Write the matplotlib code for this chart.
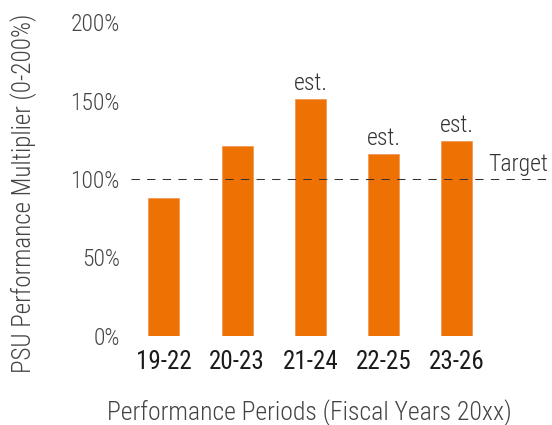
import matplotlib
matplotlib.use("Agg")
import matplotlib.pyplot as plt
from matplotlib.ticker import FuncFormatter

periods = ["19-22", "20-23", "21-24", "22-25", "23-26"]
multiplier = [88, 121, 151, 116, 124]
estimated = [False, False, True, True, True]
target = 100
yticks = [0, 50, 100, 150, 200]

FONT = "Roboto Condensed"
ORANGE = "#EE7203"

fig = plt.figure(figsize=(5.52, 4.25), dpi=100)
ax = fig.add_axes([0.2373, 0.2101, 0.7627, 0.7374])

x = list(range(len(periods)))
ax.bar(x, multiplier, width=0.423, color=ORANGE, edgecolor="#F29A55", linewidth=0.6, zorder=2)
ax.axhline(target, color="#333333", linewidth=0.75, dashes=(8, 7), zorder=3)

for xi, v, e in zip(x, multiplier, estimated):
    if e:
        ax.annotate("est.", (xi, v), xytext=(0, 6.5), textcoords="offset points",
                    ha="center", va="baseline", fontsize=17, family=FONT,
                    fontweight=300, color="#333333")

ax.annotate("Target", (4.43, target), xytext=(0, 6), textcoords="offset points",
            ha="left", va="baseline", fontsize=17, family=FONT, fontweight=300,
            color="#333333")

ax.set_xlim(-0.447, 5.296)
ax.set_ylim(0, 200)
ax.set_yticks(yticks)
ax.yaxis.set_major_formatter(FuncFormatter(lambda v, p: f"{v:.0f}%"))
ax.set_xticks(x)
ax.set_xticklabels(periods)
for lab in ax.get_yticklabels():
    lab.set_fontfamily(FONT)
    lab.set_fontweight(300)
    lab.set_fontsize(17)
    lab.set_color("#444444")
for lab in ax.get_xticklabels():
    lab.set_fontfamily(FONT)
    lab.set_fontweight(400)
    lab.set_fontsize(18)
    lab.set_color("#1a1a1a")
ax.tick_params(axis="both", length=0)
ax.tick_params(axis="y", pad=8)
ax.tick_params(axis="x", pad=10)
for s in ax.spines.values():
    s.set_visible(False)

fig.text(23.5 / 552, (425 - 193) / 425, "PSU Performance Multiplier (0-200%)",
         rotation=90, ha="center", va="center", fontsize=18, family=FONT,
         fontweight=300, color="#444444")
fig.text(309.7 / 552, (425 - 420) / 425, "Performance Periods (Fiscal Years 20xx)",
         ha="center", va="baseline", fontsize=18.5, family=FONT, fontweight=300,
         color="#444444")

fig.savefig("out.png", dpi=100)
